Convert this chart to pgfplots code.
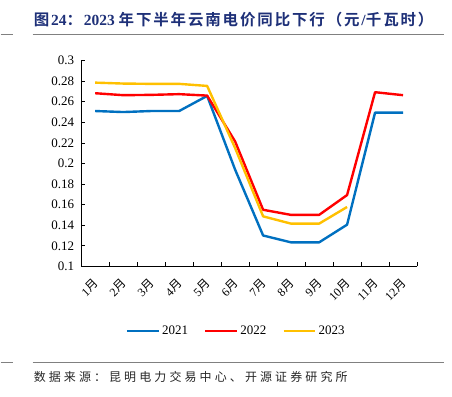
\documentclass[border=0pt]{standalone}
\usepackage{fontspec}
\setmainfont{Liberation Serif}
\newfontfamily\cjk{Noto Sans CJK SC}
\newfontfamily\cjkb[LetterSpace=12]{Noto Sans CJK SC Bold}
\newfontfamily\cjkf[LetterSpace=26]{Noto Sans CJK SC}
\usepackage{pgfplots}
\pgfplotsset{compat=1.18}
\definecolor{c21}{RGB}{0,112,192}
\definecolor{c22}{RGB}{255,0,0}
\definecolor{c23}{RGB}{255,192,0}
\definecolor{navy}{RGB}{30,48,120}
\definecolor{rule}{RGB}{128,128,128}
\begin{document}
\begin{tikzpicture}
\path (0pt,0pt) rectangle (452pt,397pt);
% title rules
\draw[rule, line width=1.2pt] (0pt,362.5pt) -- (12pt,362.5pt);
\draw[rule, line width=1.2pt] (32pt,362.5pt) -- (444pt,362.5pt);
\node[anchor=base west, inner sep=0, text=navy, font=\fontsize{15.5}{16}\selectfont] at (33pt,371pt)
 {{\cjkb 图}\textbf{24}{\cjkb ：}\textbf{2023} {\cjkb 年下半年云南电价同比下行（元}\textbf{/}{\cjkb 千瓦时）}};
% footer rules
\draw[rule, line width=1.2pt] (0pt,34.3pt) -- (12pt,34.3pt);
\draw[rule, line width=1.2pt] (32pt,34.3pt) -- (444pt,34.3pt);
\node[anchor=base west, inner sep=0, text=black!85, font=\fontsize{12}{12}\selectfont] at (33pt,15pt)
 {\cjkf 数据来源：\hspace{3pt}昆明电力交易中心、开源证券研究所};
\begin{axis}[
  at={(80.7pt,130.3pt)}, anchor=south west,
  scale only axis, width=336.3pt, height=206pt,
  xmin=0.5, xmax=12.5, ymin=0.1, ymax=0.3,
  axis x line*=bottom, axis y line*=left,
  axis line style={black, line width=0.8pt, -},
  xtick={1,...,12},
  xticklabels={1{\cjk 月},2{\cjk 月},3{\cjk 月},4{\cjk 月},5{\cjk 月},6{\cjk 月},7{\cjk 月},8{\cjk 月},9{\cjk 月},10{\cjk 月},11{\cjk 月},12{\cjk 月}},
  major x tick style={draw=none},
  minor xtick={0.5,1.5,...,12.5},
  minor tick length=4pt,
  minor x tick style={black, line width=0.8pt},
  ytick={0.1,0.12,...,0.31},
  yticklabels={0.1,0.12,0.14,0.16,0.18,0.2,0.22,0.24,0.26,0.28,0.3},
  major tick length=4pt,
  tick align=inside,
  major y tick style={black, line width=0.8pt},
  tick label style={font=\fontsize{13}{13}\selectfont},
  yticklabel style={anchor=east, inner sep=0pt, xshift=-7pt},
  xticklabel style={xshift=1pt, yshift=-15pt, rotate=45, anchor=east, inner sep=0pt, font=\fontsize{12}{12}\selectfont},
  legend style={at={(0.4615,-0.3155)}, anchor=center, draw=none, fill=none,
    legend columns=3, font=\fontsize{13}{13}\selectfont,
    /tikz/every even column/.append style={column sep=14pt}},
  legend image code/.code={\draw[#1, line width=2.4pt] (0pt,0pt) -- (32pt,0pt);},
  every axis plot/.append style={line width=2.4pt, line join=round},
  clip=false,
]
\addplot[c21] coordinates {(1,0.251) (2,0.250) (3,0.251) (4,0.251) (5,0.2657) (6,0.194) (7,0.130) (8,0.1233) (9,0.1233) (10,0.1405) (11,0.2495) (12,0.2495)};
\addplot[c22] coordinates {(1,0.2683) (2,0.2664) (3,0.2667) (4,0.2674) (5,0.266) (6,0.2214) (7,0.155) (8,0.150) (9,0.150) (10,0.1693) (11,0.2693) (12,0.2664)};
\addplot[c23] coordinates {(1,0.2786) (2,0.2777) (3,0.2774) (4,0.2774) (5,0.2754) (6,0.215) (7,0.1486) (8,0.1415) (9,0.1415) (10,0.1577)};
\legend{2021,2022,2023}
\end{axis}
\end{tikzpicture}
\end{document}
